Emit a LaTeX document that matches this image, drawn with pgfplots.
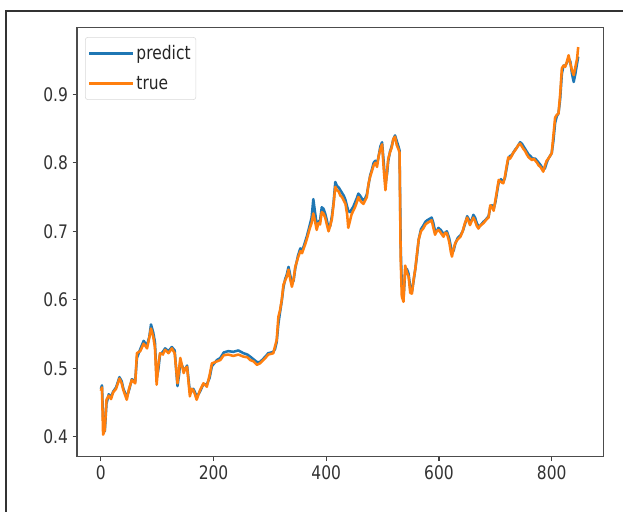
\documentclass[border=0pt]{standalone}
\usepackage{fontspec}
\setmainfont[FakeStretch=0.83]{DejaVu Sans}
\usepackage{pgfplots}
\pgfplotsset{compat=1.18}
\usepackage{pgfplotstable}
\definecolor{mplblue}{HTML}{1F77B4}
\definecolor{mplorange}{HTML}{FF7F0E}

\pgfplotstableread{
x true pred
0 0.467 0.470
2 0.472 0.475
4 0.403 0.425
7 0.410 0.408
10 0.454 0.448
14 0.460 0.462
18 0.455 0.458
22 0.465 0.466
27 0.470 0.472
33 0.485 0.487
37 0.478 0.481
40 0.468 0.470
46 0.454 0.458
50 0.470 0.468
55 0.483 0.484
61 0.478 0.481
64 0.522 0.515
70 0.525 0.528
76 0.536 0.540
82 0.529 0.533
86 0.545 0.546
89 0.558 0.564
93 0.546 0.552
96 0.530 0.538
99 0.476 0.485
102 0.505 0.498
105 0.522 0.520
110 0.520 0.524
114 0.527 0.529
120 0.522 0.525
126 0.529 0.531
131 0.522 0.526
136 0.478 0.474
139 0.500 0.492
141 0.515 0.510
147 0.493 0.498
150 0.500 0.499
153 0.502 0.504
158 0.459 0.465
161 0.470 0.466
164 0.468 0.470
167 0.462 0.465
170 0.454 0.458
176 0.468 0.466
182 0.478 0.477
188 0.473 0.476
193 0.490 0.486
197 0.507 0.503
206 0.510 0.512
212 0.512 0.515
218 0.519 0.523
226 0.520 0.525
235 0.518 0.524
244 0.520 0.526
253 0.517 0.522
260 0.516 0.520
265 0.512 0.517
271 0.510 0.513
277 0.505 0.509
282 0.507 0.509
286 0.510 0.512
292 0.515 0.517
297 0.520 0.522
302 0.521 0.523
306 0.522 0.524
309 0.532 0.528
312 0.541 0.538
315 0.575 0.565
318 0.585 0.582
321 0.600 0.598
324 0.622 0.618
327 0.628 0.630
330 0.634 0.637
333 0.644 0.648
336 0.630 0.636
339 0.619 0.624
342 0.630 0.628
345 0.648 0.646
350 0.662 0.665
354 0.671 0.675
357 0.668 0.672
360 0.675 0.678
363 0.682 0.686
366 0.690 0.694
371 0.705 0.710
374 0.712 0.720
377 0.726 0.747
380 0.715 0.728
383 0.702 0.710
386 0.712 0.714
389 0.710 0.716
392 0.728 0.735
395 0.726 0.733
398 0.720 0.726
401 0.710 0.716
404 0.700 0.705
407 0.708 0.708
410 0.718 0.722
413 0.740 0.742
416 0.765 0.772
419 0.760 0.766
422 0.758 0.764
425 0.752 0.760
428 0.750 0.756
431 0.745 0.752
434 0.740 0.746
437 0.725 0.736
439 0.705 0.730
442 0.715 0.728
445 0.725 0.732
448 0.730 0.736
451 0.735 0.742
454 0.742 0.748
457 0.750 0.755
460 0.745 0.752
463 0.742 0.748
466 0.740 0.745
469 0.745 0.748
472 0.750 0.754
475 0.770 0.768
478 0.780 0.782
481 0.788 0.790
484 0.796 0.800
487 0.800 0.803
490 0.794 0.798
493 0.810 0.810
496 0.820 0.824
499 0.827 0.830
502 0.790 0.800
505 0.760 0.768
508 0.790 0.785
510 0.806 0.803
513 0.815 0.816
516 0.822 0.824
519 0.835 0.834
522 0.838 0.840
525 0.826 0.832
528 0.820 0.824
530 0.815 0.818
532 0.660 0.680
534 0.605 0.620
537 0.597 0.602
540 0.650 0.640
543 0.640 0.645
546 0.634 0.638
549 0.610 0.618
552 0.609 0.612
555 0.630 0.628
558 0.645 0.645
561 0.668 0.665
564 0.688 0.688
568 0.700 0.703
572 0.704 0.708
576 0.710 0.714
579 0.712 0.716
583 0.714 0.718
587 0.716 0.720
590 0.705 0.712
593 0.695 0.700
596 0.700 0.700
599 0.702 0.705
603 0.698 0.702
608 0.692 0.696
611 0.698 0.698
614 0.697 0.700
618 0.685 0.690
621 0.670 0.678
623 0.663 0.668
626 0.675 0.672
629 0.683 0.682
633 0.688 0.690
638 0.692 0.694
642 0.700 0.700
646 0.712 0.710
650 0.720 0.722
655 0.709 0.714
658 0.715 0.716
661 0.720 0.724
664 0.715 0.720
667 0.708 0.712
670 0.704 0.707
673 0.708 0.708
676 0.710 0.711
679 0.712 0.714
682 0.715 0.716
685 0.718 0.719
688 0.720 0.722
691 0.738 0.735
694 0.735 0.738
697 0.730 0.733
700 0.745 0.742
703 0.760 0.757
706 0.775 0.772
710 0.772 0.776
714 0.770 0.772
717 0.780 0.778
720 0.795 0.792
723 0.808 0.806
726 0.806 0.810
729 0.810 0.811
732 0.815 0.815
735 0.818 0.819
738 0.822 0.822
741 0.826 0.826
744 0.828 0.830
747 0.824 0.828
750 0.820 0.824
753 0.817 0.820
756 0.812 0.816
759 0.808 0.812
762 0.806 0.810
765 0.804 0.807
768 0.806 0.806
771 0.803 0.806
774 0.800 0.803
777 0.796 0.800
780 0.794 0.797
783 0.790 0.793
785 0.787 0.790
788 0.796 0.792
791 0.803 0.800
794 0.806 0.806
797 0.810 0.810
800 0.814 0.814
803 0.840 0.832
806 0.866 0.858
809 0.870 0.868
812 0.872 0.872
815 0.900 0.893
818 0.938 0.930
821 0.942 0.942
824 0.940 0.942
827 0.948 0.946
830 0.957 0.952
833 0.945 0.948
836 0.935 0.930
839 0.928 0.918
842 0.940 0.930
845 0.952 0.945
847 0.969 0.955
}\stockdata

\begin{document}
\begin{tikzpicture}
\useasboundingbox (0pt,0pt) rectangle (467.25pt,383.25pt);
\fill[white] (0pt,0pt) rectangle (467.25pt,383.25pt);
\draw[black!80, line width=1.5pt] (4.5pt,-2pt) -- (4.5pt,375pt) -- (470pt,375pt);
\begin{axis}[
  at={(57.75pt,40.7pt)}, anchor=south west,
  scale only axis,
  width=394.7pt, height=321.75pt,
  xmin=-42.3, xmax=891.5,
  ymin=0.3708, ymax=0.9972,
  xtick={0,200,400,600,800},
  ytick={0.4,0.5,0.6,0.7,0.8,0.9},
  yticklabel style={/pgf/number format/fixed, /pgf/number format/precision=1, /pgf/number format/fixed zerofill},
  /pgf/number format/assume math mode=true,
  tick align=outside,
  major tick length=3.3pt,
  tick style={black!75, line width=0.8pt},
  axis line style={black!70, line width=0.9pt},
  ticklabel style={font=\fontsize{14}{16}\selectfont, text=black!80},
  xtick pos=bottom, ytick pos=left,
  legend style={at={(0,1)}, anchor=north west, xshift=6pt, yshift=-7pt,
    draw=black!15, rounded corners=2pt, fill=white, fill opacity=0.8, text opacity=1,
    font=\fontsize{14}{16}\selectfont, text=black!85,
    inner xsep=2pt, inner ysep=4.25pt, row sep=6.75pt},
  legend cell align=left,
  legend image code/.code={\path (0pt,0pt) -- (32.5pt,0pt);\draw[line width=1.9pt] (0pt,0pt) -- (26pt,0pt);},
]
\addplot[mplblue, line width=1.9pt, line join=round] table[x=x, y=pred] {\stockdata};
\addlegendentry{predict\hspace{1.5pt}}
\addplot[mplorange, line width=1.9pt, line join=round] table[x=x, y=true] {\stockdata};
\addlegendentry{true}
\end{axis}
\end{tikzpicture}
\end{document}
